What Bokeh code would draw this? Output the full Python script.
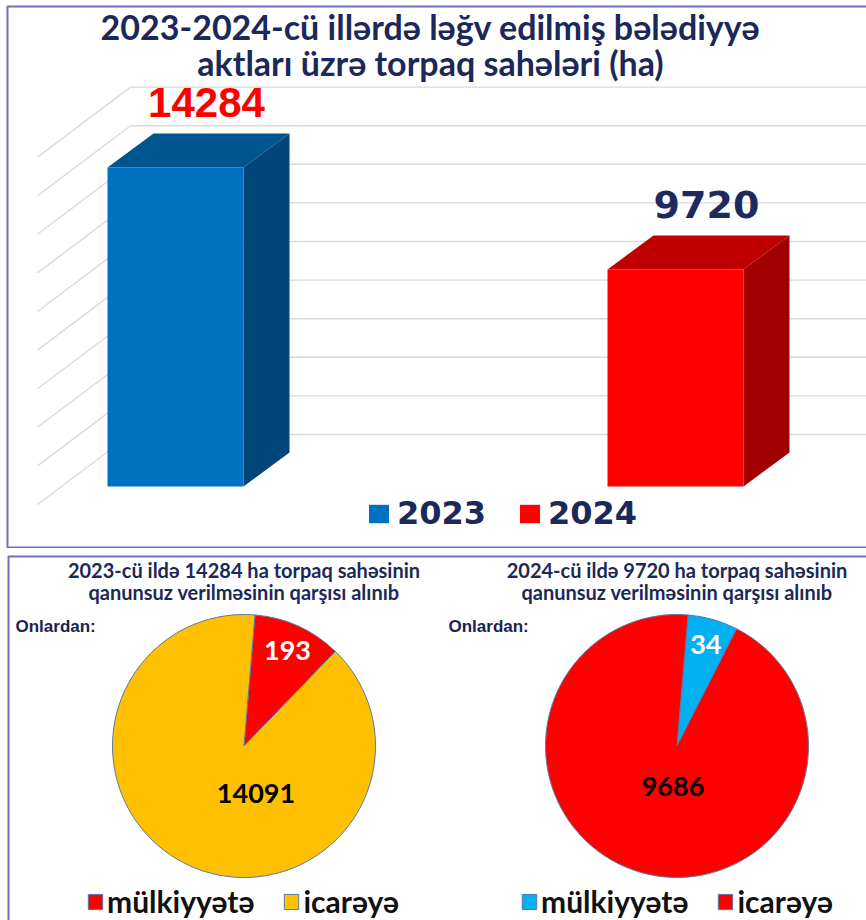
import math
from bokeh.plotting import figure
from bokeh.models import (Range1d, ColumnDataSource, Label, Legend, LegendItem,
                          BoxAnnotation)
from bokeh.layouts import column
from bokeh.embed import file_html
from bokeh.resources import INLINE
from bokeh.core.properties import value

# ------------------------------------------------------------------ data
years = ["2023", "2024"]
areas_ha = [14284, 9720]
bar_front_colors = ["#0070C0", "#FF0000"]
bar_top_colors = ["#00558F", "#C00000"]
bar_side_colors = ["#00467A", "#A00000"]
bar_label_colors = ["#FF0000", "#1F2A5C"]

# back-wall gridlines of the 3-D chart (ha)
grid_values = [0, 2000, 4000, 6000, 8000, 10000, 12000, 14000, 16000, 18000]

title_lines = ["2023-2024-cü illərdə ləğv edilmiş bələdiyyə",
               "aktları üzrə torpaq sahələri (ha)"]

pie_titles = [["2023-cü ildə 14284 ha torpaq sahəsinin",
               "qanunsuz verilməsinin qarşısı alınıb"],
              ["2024-cü ildə 9720 ha torpaq sahəsinin",
               "qanunsuz verilməsinin qarşısı alınıb"]]
pie_note = "Onlardan:"
pie_categories = ["mülkiyyətə", "icarəyə"]
pie_2023_values = [193, 14091]
pie_2024_values = [34, 9686]
# slice sizes as they are drawn in the picture (degrees, clockwise)
pie_2023_drawn_deg = [39.2, 320.8]
pie_2024_drawn_deg = [22.2, 337.8]
pie_start_deg = 4.8          # first slice starts this far clockwise from 12 o'clock
pie_2023_colors = ["#FF0000", "#FFC000"]
pie_2024_colors = ["#00B0F0", "#FF0000"]
pie_label_colors = ["white", "black"]

NAVY = "#1C275A"
BORDER = "#6F6FBF"

# ------------------------------------------------------------------ top: 3-D bars
TOP_W, TOP_H = 866, 548
X_PX = 500.0     # px per category step
X0 = 175.0       # px of first category centre
Y_PX = 0.02233   # px per ha
Y0 = 486.0       # px of 0 ha


def tx(px):
    return (px - X0) / X_PX


def ty(py):
    return (Y0 - py) / Y_PX


top = figure(width=TOP_W, height=TOP_H, output_backend="svg", toolbar_location=None,
             x_range=Range1d(tx(0), tx(TOP_W)), y_range=Range1d(ty(TOP_H), ty(0)),
             x_axis_type=None, y_axis_type=None, min_border=0)
top.grid.visible = False
top.outline_line_color = None
top.background_fill_color = "white"
top.border_fill_color = "white"

# back wall + side wall gridlines (oblique projection)
WALL_FLOOR_PX = 434.0
WALL_PX_PER_HA = 38.6 / 2000
WALL_X_PX = 130.0
WALL_DX_PX, WALL_DY_PX = 93.0, 70.0
g_back = [WALL_FLOOR_PX - v * WALL_PX_PER_HA for v in grid_values]
top.segment(x0=[tx(WALL_X_PX)] * len(g_back), y0=[ty(p) for p in g_back],
            x1=[tx(TOP_W + 10)] * len(g_back), y1=[ty(p) for p in g_back],
            line_color="#D9D9D9", line_width=1.4)
top.segment(x0=[tx(WALL_X_PX - WALL_DX_PX)] * len(g_back),
            y0=[ty(p + WALL_DY_PX) for p in g_back],
            x1=[tx(WALL_X_PX)] * len(g_back), y1=[ty(p) for p in g_back],
            line_color="#D9D9D9", line_width=1.4)

xs = list(range(len(years)))
hw = 68.0 / X_PX
ddx = 46.0 / X_PX
ddy = 34.0 / Y_PX

top.patches(xs=[[x - hw, x + hw, x + hw + ddx, x - hw + ddx] for x in xs],
            ys=[[v, v, v + ddy, v + ddy] for v in areas_ha],
            fill_color=bar_top_colors, line_color=None)
top.patches(xs=[[x + hw, x + hw + ddx, x + hw + ddx, x + hw] for x in xs],
            ys=[[0, ddy, v + ddy, v] for v in areas_ha],
            fill_color=bar_side_colors, line_color=None)
front_src = ColumnDataSource(dict(left=[x - hw for x in xs], right=[x + hw for x in xs],
                                  top=areas_ha, bottom=[0] * len(xs),
                                  color=bar_front_colors))
front = top.quad(left="left", right="right", top="top", bottom="bottom",
                 fill_color="color", line_color=None, source=front_src)

label_fonts = ["Liberation Sans", "DejaVu Sans"]
label_sizes = ["42px", "38px"]
for x, v, c, f, s in zip(xs, areas_ha, bar_label_colors, label_fonts, label_sizes):
    top.text(x=[x + 31.0 / X_PX], y=[v + ddy + 31.0 / Y_PX], text=[str(v)],
             text_align="center", text_baseline="middle", text_color=c,
             text_font=value(f), text_font_style="bold", text_font_size=s)

# title
for line, mid in zip(title_lines, [26, 62]):
    top.add_layout(Label(x=tx(430), y=ty(mid), text=line, text_align="center",
                         text_baseline="middle", text_font="Lato",
                         text_font_style="bold", text_font_size="34px",
                         text_color=NAVY))

top_legend = Legend(items=[LegendItem(label=years[i], renderers=[front], index=i)
                           for i in xs],
                    location=(366, 16), orientation="horizontal",
                    glyph_width=25, glyph_height=23, label_standoff=6, spacing=31,
                    padding=0, margin=0, border_line_color=None,
                    background_fill_alpha=0, label_text_font="DejaVu Sans",
                    label_text_font_style="bold", label_text_font_size="32px",
                    label_text_color=NAVY)
top.add_layout(top_legend)

top.add_layout(BoxAnnotation(left=tx(7), right=tx(TOP_W + 20), top=ty(6), bottom=ty(547),
                             fill_color=None, line_color=BORDER, line_alpha=1.0,
                             line_width=2))

# ------------------------------------------------------------------ bottom: pies
BOT_W, BOT_H = 866, 372
P_PX = 433.0            # px per unit (equal aspect)
PX0, PY0 = 243.5, 197.5  # px of first pie centre (local)
R = 131.5 / P_PX


def bx(px):
    return (px - PX0) / P_PX


def by(py):
    return (PY0 - py) / P_PX


bot = figure(width=BOT_W, height=BOT_H, output_backend="svg", toolbar_location=None,
             x_range=Range1d(bx(0), bx(BOT_W)), y_range=Range1d(by(BOT_H), by(0)),
             x_axis_type=None, y_axis_type=None, min_border=0)
bot.grid.visible = False
bot.outline_line_color = None
bot.background_fill_color = "white"
bot.border_fill_color = "white"

pies = [(pie_2023_values, pie_2023_drawn_deg, pie_2023_colors),
        (pie_2024_values, pie_2024_drawn_deg, pie_2024_colors)]
big_label_offset_px = [(12, -47), (-4, -40)]
legend_x_px = [86, 520]

for i, (vals, drawn, cols) in enumerate(pies):
    starts, ends = [], []
    acc = pie_start_deg
    for d in drawn:
        starts.append(math.radians(90 - (acc + d)))
        ends.append(math.radians(90 - acc))
        acc += d
    src = ColumnDataSource(dict(x=[i] * len(vals), y=[0] * len(vals), start=starts,
                                end=ends, color=cols, label=pie_categories))
    w = bot.wedge(x="x", y="y", radius=R, start_angle="start", end_angle="end",
                  fill_color="color", line_color="#5B78A8", line_width=1, source=src)

    # value labels
    mid = math.radians(pie_start_deg + drawn[0] / 2)
    small_pos = (i + 0.8 * R * math.sin(mid), 0.8 * R * math.cos(mid))
    ox, oy = big_label_offset_px[i]
    big_pos = (i + ox / P_PX, oy / P_PX)
    for (lx, ly), v, c in zip([small_pos, big_pos], vals, pie_label_colors):
        bot.text(x=[lx], y=[ly], text=[str(v)], text_align="center",
                 text_baseline="middle", text_color=c, text_font=value("Lato"),
                 text_font_style="bold", text_font_size="27px")

    # sub-titles
    for line, mid_px in zip(pie_titles[i], [569 - 548, 591 - 548]):
        bot.add_layout(Label(x=i, y=by(mid_px), text=line, text_align="center",
                             text_baseline="middle", text_font="Lato",
                             text_font_style="bold", text_font_size="20px",
                             text_color=NAVY))
    bot.add_layout(Label(x=bx(15 + 433 * i), y=by(626 - 548), text=pie_note,
                         text_align="left", text_baseline="middle",
                         text_font="Liberation Sans", text_font_style="bold",
                         text_font_size="17px", text_color="#1A2250"))

    leg = Legend(items=[LegendItem(label=pie_categories[k], renderers=[w], index=k)
                        for k in range(len(vals))],
                 location=(legend_x_px[i], 1), orientation="horizontal",
                 glyph_width=18, glyph_height=19, label_standoff=3, spacing=28,
                 padding=0, margin=0, border_line_color=None,
                 background_fill_alpha=0, label_text_font="Lato",
                 label_text_font_style="bold", label_text_font_size="30px",
                 label_text_color="#111111")
    bot.add_layout(leg)

bot.add_layout(BoxAnnotation(left=bx(8), right=bx(BOT_W + 20), top=by(8),
                             bottom=by(BOT_H + 20), fill_color=None,
                             line_color=BORDER, line_alpha=1.0, line_width=2))

layout = column(top, bot, spacing=0)
open("out.html", "w").write(file_html(layout, INLINE))
